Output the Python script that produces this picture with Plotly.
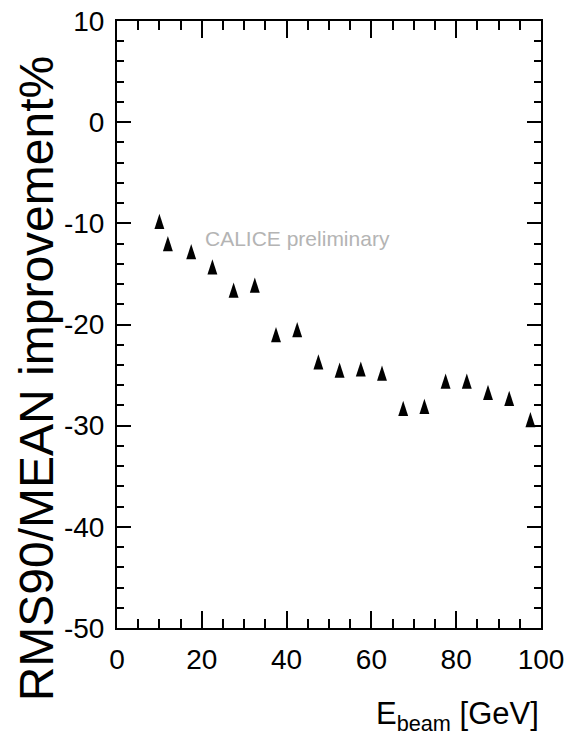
import math
import plotly.graph_objects as go

# Data
energy_gev = [10, 12, 17.5, 22.5, 27.5, 32.5, 37.5, 42.5, 47.5, 52.5,
              57.5, 62.5, 67.5, 72.5, 77.5, 82.5, 87.5, 92.5, 97.5]
improvement_pct = [-9.8, -12.0, -12.8, -14.3, -16.6, -16.1, -21.0, -20.5, -23.7, -24.5,
                   -24.4, -24.8, -28.3, -28.1, -25.6, -25.6, -26.7, -27.3, -29.4]

x_ticks = [0, 20, 40, 60, 80, 100]
y_ticks = [-50, -40, -30, -20, -10, 0, 10]
Y_RANGE = [-50, 10]

FONT = "Liberation Sans, Arial, Helvetica, sans-serif"

W, H = 573, 744
M_L, M_R, M_T, M_B = 117, 32, 21, 116
plot_h = H - M_T - M_B

# The plotly "arrow" marker has its tip at the data point; draw the markers on an
# overlaid twin axis shifted by half the marker height so each triangle is centred.
MARKER_SIZE = 16
half_h_px = (MARKER_SIZE / 2) * 2 * math.sin(math.pi / 2.5) / 2
dy = half_h_px * (Y_RANGE[1] - Y_RANGE[0]) / plot_h

fig = go.Figure()
fig.add_trace(go.Scatter(
    x=energy_gev, y=improvement_pct, mode="markers", yaxis="y2",
    marker=dict(symbol="arrow", angle=0, size=MARKER_SIZE, color="black",
                line=dict(width=0)),
    showlegend=False, hoverinfo="x+y",
))

axis_common = dict(
    showgrid=False, zeroline=False, showline=True, linewidth=2, linecolor="black",
    mirror="ticks", ticks="inside", tickwidth=2, tickcolor="black", automargin=False,
    tickfont=dict(family=FONT, size=28, color="black"),
)

fig.update_layout(
    xaxis=dict(
        range=[0, 100], tickmode="array", tickvals=x_ticks, ticktext=[str(v) for v in x_ticks],
        ticklen=17, ticklabelstandoff=5,
        minor=dict(dtick=5, ticks="inside", ticklen=9, tickwidth=2, tickcolor="black"),
        **axis_common,
    ),
    yaxis=dict(
        range=Y_RANGE, tickmode="array", tickvals=y_ticks, ticktext=[str(v) for v in y_ticks],
        ticklen=14, ticklabelstandoff=5,
        minor=dict(dtick=2, ticks="inside", ticklen=7, tickwidth=2, tickcolor="black"),
        **axis_common,
    ),
    yaxis2=dict(
        range=[Y_RANGE[0] - dy, Y_RANGE[1] - dy], overlaying="y", visible=False,
        automargin=False, fixedrange=True,
    ),
)

# y-axis title (rotated)
fig.add_annotation(
    x=-0.19, y=0.412, xref="paper", yref="paper", xanchor="center", yanchor="middle",
    text="RMS90/MEAN improvement%", textangle=-90, showarrow=False,
    font=dict(family=FONT, size=48, color="black"),
)
fig.add_annotation(
    x=20.3, y=-11.5, xref="x", yref="y", xanchor="left", yanchor="middle",
    text="CALICE preliminary", showarrow=False,
    font=dict(family=FONT, size=21, color="#b4b4b4"),
)
fig.add_annotation(
    x=1.0, y=-0.108, xref="paper", yref="paper", xanchor="right", yanchor="top",
    text="E<sub>beam</sub> [GeV]", showarrow=False,
    font=dict(family=FONT, size=31, color="black"),
)

fig.update_layout(
    width=W, height=H,
    margin=dict(l=M_L, r=M_R, t=M_T, b=M_B, pad=0),
    plot_bgcolor="white", paper_bgcolor="white",
)

fig.write_html("out.html", config={"displayModeBar": False},
               post_script="document.body.style.margin='0';")
